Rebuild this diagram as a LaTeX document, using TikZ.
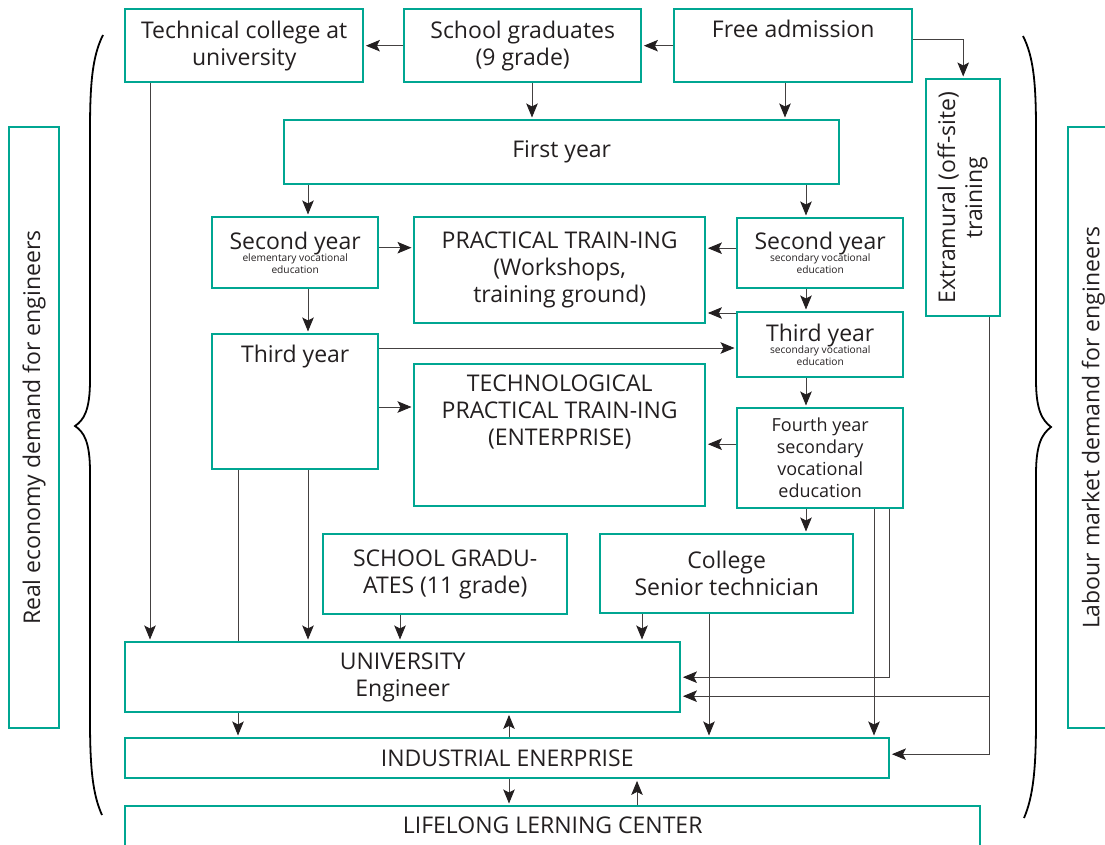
\documentclass[tikz,border=0pt]{standalone}
\usepackage{fontspec}
\setmainfont{Open Sans}
\usetikzlibrary{arrows.meta}
\definecolor{boxteal}{RGB}{0,166,146}
\definecolor{inkgray}{RGB}{35,31,32}
\newcommand\smallnote{\fontsize{10.2}{12}\selectfont}

\begin{document}
\begin{tikzpicture}[x=1pt, y=-1pt,
    every node/.style={text=inkgray, font=\fontsize{23}{27}\selectfont},
    box/.style={draw=boxteal, line width=2.4pt, inner sep=0pt, align=center, anchor=north west},
    toplabel/.style={anchor=north, inner sep=11.5pt, align=center},
    conn/.style={draw=inkgray!85, line width=0.9pt},
    >={Stealth[length=14pt, width=11.5pt, inset=3pt, color=inkgray]},
    arr/.style={conn, ->, shorten >=1.5pt},
    brace/.style={draw=black, line width=1.8pt}]
  \useasboundingbox (0,0) rectangle (1105,845);

  \node[box, minimum width=238pt, minimum height=73pt] (tech) at (124,8) {Technical college at\\university};
  \node[box, minimum width=237pt, minimum height=73pt] (sch9) at (403,8) {School graduates\\(9 grade)};
  \node[box, minimum width=238pt, minimum height=73pt, label={[toplabel]north:Free admission}] (free) at (673,8) {};
  \node[box, minimum width=74pt, minimum height=237pt] (extra) at (925,78)
    {\rotatebox{90}{\begin{tabular}{@{}c@{}}Extramural (off-site)\\training\end{tabular}}};
  \node[box, minimum width=555pt, minimum height=64pt] (first) at (283,119) {First year};
  \node[box, minimum width=166pt, minimum height=71pt] (sec1) at (211,216)
    {Second year\\[-15pt]{\smallnote elementary vocational}\\[-15pt]{\smallnote education}};
  \node[box, minimum width=291pt, minimum height=106pt] (prac) at (413,216) {PRACTICAL TRAIN-ING\\(Workshops,\\training ground)};
  \node[box, minimum width=166pt, minimum height=70pt] (sec2) at (736,217)
    {Second year\\[-15pt]{\smallnote secondary vocational}\\[-15pt]{\smallnote education}};
  \node[box, minimum width=166pt, minimum height=135pt, label={[toplabel]north:Third year}] (third1) at (211,333) {};
  \node[box, minimum width=166pt, minimum height=65pt] (third2) at (736,311)
    {Third year\\[-15pt]{\smallnote secondary vocational}\\[-15pt]{\smallnote education}};
  \node[box, minimum width=291pt, minimum height=142pt,
    label={[toplabel]north:TECHNOLOGICAL\\PRACTICAL TRAIN-ING\\(ENTERPRISE)}] (techpr) at (413,363) {};
  \node[box, minimum width=166pt, minimum height=100pt, font=\fontsize{18}{22}\selectfont] (fourth) at (736,407)
    {Fourth year\\secondary\\vocational\\education};
  \node[box, minimum width=244pt, minimum height=80pt] (sch11) at (322,533) {SCHOOL GRADU-\\ATES (11 grade)};
  \node[box, minimum width=253pt, minimum height=79pt] (college) at (599,533) {College\\Senior technician};
  \node[box, minimum width=555pt, minimum height=70pt] (univ) at (124,641) {UNIVERSITY\\Engineer};
  \node[box, minimum width=764pt, minimum height=40pt] (indus) at (124,737) {INDUSTRIAL ENERPRISE};
  \node[box, minimum width=855pt, minimum height=56pt, label={[toplabel]north:LIFELONG LERNING CENTER}] (life) at (124,805) {};
  \node[box, minimum width=50pt, minimum height=601pt] (realdem) at (8,126) {\rotatebox{90}{Real economy demand for engineers}};
  \node[box, minimum width=50pt, minimum height=601pt] (labdem) at (1067,126) {\rotatebox{90}{Labour market demand for engineers}};

  \foreach \n/\x in {a/150, b/238, c/308, d/400, e/509, f/532, g/637, h/642, i/709, j/785, k/806, l/874, m/889, n/989}
    \coordinate (col\n) at (\x,0);

  \draw[arr] (sch9) -- (tech);
  \draw[arr] (free) -- (sch9);
  \draw[arr] ([yshift=6pt]free.east) -| (extra);
  \draw[arr] (sch9.south -| colf) -- (first.north -| colf);
  \draw[arr] (free.south -| colj) -- (first.north -| colj);
  \draw[arr] (first.south -| colc) -- (sec1.north -| colc);
  \draw[arr] (first.south -| colk) -- (sec2.north -| colk);
  \draw[arr] ([yshift=5pt]sec1.east) -- ([yshift=5pt]sec1.east -| prac.west);
  \draw[arr] ([yshift=5pt]sec2.west) -- ([yshift=5pt]sec2.west -| prac.east);
  \draw[arr] (sec1.south -| colc) -- (third1.north -| colc);
  \draw[arr] (sec2.south -| colk) -- (third2.north -| colk);
  \draw[arr] ([yshift=-2pt]third2.north west) -- ([yshift=-2pt]third2.north west -| prac.east);
  \draw[arr] ([yshift=-15pt]third1.north east) -- ([yshift=-15pt]third1.north east -| third2.west);
  \draw[arr] ([yshift=-74pt]third1.north east) -- ([yshift=-74pt]third1.north east -| techpr.west);
  \draw[arr] ([yshift=14pt]fourth.west) -- ([yshift=14pt]fourth.west -| techpr.east);
  \draw[arr] (third2.south -| colk) -- (fourth.north -| colk);
  \draw[arr] (fourth.south -| colk) -- (college.north -| colk);
  \draw[arr] (tech.south -| cola) -- (univ.north -| cola);
  \draw[conn] (third1.south -| colb) -- (univ.north -| colb);
  \draw[arr] (third1.south -| colc) -- (univ.north -| colc);
  \draw[arr] (sch11.south -| cold) -- (univ.north -| cold);
  \draw[arr] (college.south -| colh) -- (univ.north -| colh);
  \draw[arr] (college.south -| coli) -- (indus.north -| coli);
  \draw[arr] (fourth.south -| colm) |- (univ.east);
  \draw[arr] (fourth.south -| coll) -- (indus.north -| coll);
  \draw[arr] (extra.south -| coln) |- ([yshift=-19pt]univ.east);
  \draw[arr] (extra.south -| coln) |- ([yshift=4pt]indus.east);
  \draw[arr] (univ.south -| colb) -- (indus.north -| colb);
  \draw[arr] (indus.north -| cole) -- (univ.south -| cole);
  \draw[arr] (indus.south -| cole) -- (life.north -| cole);
  \draw[arr] (life.north -| colg) -- (indus.south -| colg);

  \draw[brace] (103,35) .. controls (93,55) and (90,80) .. (90,130) -- (90,380)
    .. controls (90,410) and (84,420) .. (75,426) .. controls (84,432) and (90,442) .. (90,472)
    -- (90,720) .. controls (90,770) and (93,795) .. (102,815);
  \draw[brace] (1023,36) .. controls (1033,56) and (1036,80) .. (1036,130) -- (1036,380)
    .. controls (1036,410) and (1042,420) .. (1051,427) .. controls (1042,434) and (1036,444) .. (1036,474)
    -- (1036,720) .. controls (1036,770) and (1033,797) .. (1024,818);
\end{tikzpicture}
\end{document}
